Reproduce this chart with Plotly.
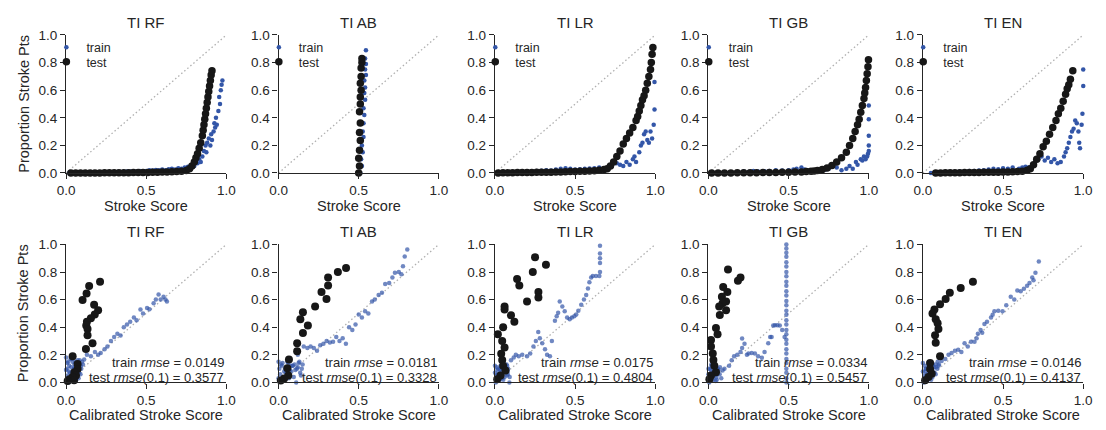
import plotly.graph_objects as go

# ---------------- data ----------------
MODELS = ["TI RF", "TI AB", "TI LR", "TI GB", "TI EN"]
TOP_XLABEL = "Stroke Score"
BOT_XLABEL = "Calibrated Stroke Score"
YLABEL = "Proportion Stroke Pts"
X_TICKS = [0.0, 0.5, 1.0]
Y_TICKS = [0.0, 0.2, 0.4, 0.6, 0.8, 1.0]
DIAG = [0.0, 1.0]

TRAIN_RMSE = ["0.0149", "0.0181", "0.0175", "0.0334", "0.0146"]
TEST_RMSE = ["0.3577", "0.3328", "0.4804", "0.5457", "0.4137"]

# ---- top row: raw scores ----
RF_TOP_TRAIN_X = [0.02,0.04,0.06,0.08,0.1,0.12,0.14,0.16,0.18,0.2,0.22,0.24,0.26,0.28,0.3,0.32,0.34,0.36,0.38,0.4,0.42,0.44,0.46,0.48,0.5,0.52,0.54,0.56,0.58,0.6,0.62,0.64,0.66,0.68,0.7,0.72,0.74,0.76,0.78,
                  0.8,0.82,0.83,0.84,0.85,0.86,0.87,0.875,0.88,0.89,0.9,0.905,0.91,0.92,0.925,0.93,0.935,0.94,0.95,0.955,0.96,0.965,0.97,0.975]
RF_TOP_TRAIN_Y = [0,0,0,0.001,0.001,0.002,0.002,0.003,0.003,0.004,0.004,0.005,0.005,0.006,0.006,0.007,0.008,0.009,0.01,0.01,0.012,0.011,0.014,0.013,0.015,0.02,0.018,0.022,0.02,0.025,0.02,0.028,0.03,0.025,0.035,0.03,0.04,0.045,0.04,
                  0.05,0.07,0.1,0.08,0.12,0.16,0.2,0.15,0.22,0.25,0.2,0.28,0.24,0.3,0.36,0.33,0.4,0.35,0.45,0.55,0.5,0.6,0.64,0.67]
RF_TOP_TEST_X = [0.03,0.06,0.09,0.12,0.15,0.18,0.21,0.24,0.27,0.3,0.33,0.36,0.39,0.42,0.45,0.48,0.51,0.54,0.57,0.6,0.63,0.66,0.69,0.72,0.75,0.77,0.785,
                 0.8,0.81,0.82,0.83,0.84,0.85,0.855,0.86,0.865,0.87,0.875,0.88,0.885,0.89,0.895,0.9,0.905,0.91]
RF_TOP_TEST_Y = [0,0,0,0,0,0,0,0.001,0.001,0.001,0.002,0.002,0.002,0.003,0.003,0.004,0.004,0.005,0.006,0.007,0.008,0.009,0.01,0.013,0.018,0.03,0.05,
                 0.08,0.11,0.14,0.18,0.22,0.27,0.31,0.35,0.39,0.43,0.47,0.51,0.55,0.59,0.63,0.67,0.71,0.74]

AB_TOP_TRAIN_X = [0.51,0.52,0.515,0.525,0.52,0.53,0.525,0.53,0.535,0.53,0.54,0.535,0.54,0.535,0.545,0.54,0.545,0.54,0.545]
AB_TOP_TRAIN_Y = [0.0,0.05,0.1,0.15,0.2,0.26,0.3,0.36,0.42,0.47,0.53,0.58,0.62,0.67,0.71,0.75,0.79,0.83,0.89]
AB_TOP_TEST_X = [0.5,0.505,0.5,0.505,0.51,0.505,0.51,0.505,0.51,0.51,0.515,0.51,0.515,0.515,0.52,0.52]
AB_TOP_TEST_Y = [0.0,0.05,0.107,0.165,0.235,0.293,0.363,0.444,0.5,0.55,0.6,0.65,0.7,0.76,0.8,0.83]

LR_TOP_TRAIN_X = [0.02,0.05,0.08,0.11,0.14,0.17,0.2,0.23,0.26,0.29,0.32,0.35,0.38,0.41,0.44,0.47,0.5,0.53,0.56,0.59,0.62,0.65,0.68,0.7,
                  0.73,0.76,0.78,0.8,0.82,0.84,0.86,0.87,0.88,0.9,0.91,0.92,0.93,0.94,0.95,0.96,0.97,0.98,0.99,0.995,0.995]
LR_TOP_TRAIN_Y = [0.0,0.003,0.005,0.007,0.008,0.01,0.012,0.013,0.015,0.016,0.02,0.018,0.025,0.03,0.035,0.03,0.025,0.028,0.03,0.033,0.035,0.04,0.035,0.03,
                  0.05,0.07,0.06,0.05,0.08,0.06,0.1,0.12,0.08,0.15,0.2,0.22,0.28,0.3,0.24,0.22,0.3,0.25,0.35,0.46,0.66]
LR_TOP_TEST_X = [0.02,0.05,0.08,0.11,0.14,0.17,0.2,0.23,0.26,0.29,0.32,0.35,0.38,0.41,0.44,0.47,0.5,0.53,0.56,0.59,0.62,0.65,0.68,0.7,
                 0.72,0.74,0.76,0.78,0.8,0.82,0.84,0.86,0.88,0.89,0.9,0.91,0.92,0.93,0.94,0.95,0.96,0.97,0.975,0.98,0.985]
LR_TOP_TEST_Y = [0,0.001,0.002,0.002,0.003,0.003,0.004,0.004,0.005,0.005,0.006,0.006,0.007,0.008,0.009,0.01,0.01,0.012,0.013,0.015,0.017,0.02,0.025,0.03,
                 0.05,0.08,0.12,0.16,0.21,0.25,0.29,0.33,0.38,0.41,0.45,0.49,0.53,0.56,0.6,0.65,0.7,0.75,0.8,0.86,0.91]

GB_TOP_TRAIN_X = [0.02,0.06,0.1,0.14,0.18,0.22,0.25,0.28,0.31,0.35,0.38,0.42,0.46,0.5,0.53,0.55,0.58,0.6,0.63,0.65,0.67,0.7,0.73,0.75,0.78,0.8,0.83,0.86,0.88,0.9,
                  0.92,0.93,0.95,0.96,0.97,0.98,0.99,0.995,1.0,1.0,1.0,1.0,1.0]
GB_TOP_TRAIN_Y = [0.0,0.002,0.003,0.004,0.005,0.01,0.008,0.015,0.01,0.012,0.015,0.02,0.018,0.02,0.025,0.03,0.04,0.025,0.02,0.018,0.015,0.02,0.025,0.03,0.05,0.04,0.02,0.03,0.05,0.03,
                  0.08,0.06,0.1,0.09,0.12,0.1,0.12,0.14,0.2,0.27,0.39,0.49,0.16]
GB_TOP_TEST_X = [0.02,0.06,0.1,0.14,0.18,0.22,0.26,0.3,0.34,0.38,0.42,0.46,0.5,0.54,0.58,0.61,0.64,0.66,0.68,0.71,0.74,0.77,0.8,0.83,0.86,0.88,0.9,0.915,0.93,0.94,0.95,0.96,0.97,0.975,0.98,0.985,0.99,0.995,0.998]
GB_TOP_TEST_Y = [0,0,0,0,0.001,0.001,0.002,0.002,0.003,0.003,0.004,0.005,0.006,0.007,0.008,0.01,0.012,0.015,0.018,0.025,0.037,0.055,0.08,0.11,0.15,0.2,0.25,0.3,0.35,0.39,0.44,0.49,0.54,0.58,0.62,0.67,0.72,0.77,0.82]

EN_TOP_TRAIN_X = [0.05,0.08,0.11,0.14,0.17,0.2,0.23,0.26,0.29,0.32,0.35,0.38,0.41,0.44,0.47,0.5,0.53,0.56,0.6,0.62,0.64,0.66,0.68,0.7,0.72,0.74,0.76,0.78,0.8,0.82,0.84,0.86,0.88,0.89,0.9,0.91,0.92,0.93,0.94,0.95,0.96,0.97,0.975,0.98,0.99,0.995,1.0,1.0]
EN_TOP_TRAIN_Y = [0.0,0.003,0.005,0.006,0.007,0.008,0.01,0.012,0.014,0.015,0.018,0.02,0.025,0.03,0.028,0.035,0.03,0.04,0.03,0.04,0.045,0.04,0.05,0.08,0.1,0.12,0.09,0.11,0.08,0.1,0.07,0.08,0.12,0.15,0.18,0.22,0.26,0.3,0.32,0.38,0.36,0.3,0.22,0.18,0.35,0.43,0.63,0.75]
EN_TOP_TEST_X = [0.08,0.11,0.14,0.17,0.2,0.23,0.26,0.29,0.32,0.35,0.38,0.41,0.44,0.47,0.5,0.53,0.56,0.59,0.62,0.65,0.67,0.69,0.71,0.73,0.75,0.77,0.79,0.81,0.83,0.845,0.86,0.875,0.89,0.9,0.91,0.92,0.935]
EN_TOP_TEST_Y = [0,0,0.001,0.001,0.002,0.002,0.003,0.003,0.004,0.004,0.005,0.005,0.006,0.006,0.007,0.008,0.009,0.01,0.012,0.02,0.03,0.06,0.1,0.14,0.19,0.23,0.28,0.33,0.38,0.43,0.47,0.52,0.57,0.61,0.64,0.68,0.74]

# ---- bottom row: calibrated scores ----
RF_BOT_TRAIN_X = [0.0,0.01,0.02,0.03,0.04,0.05,0.06,0.07,0.08,0.09,0.1,0.005,0.015,0.025,0.035,0.045,0.055,0.065,0.075,0.085,
                  0.0,0.012,0.022,0.032,0.042,0.052,0.062,0.072,0.082,0.092,0.008,0.018,0.028,0.038,0.048,0.058,0.068,0.078,0.095,0.105,
                  0.113,0.13,0.155,0.18,0.2,0.216,0.24,0.258,0.28,0.3,0.32,0.34,0.36,0.38,0.4,0.423,0.44,0.464,0.48,0.505,0.52,0.546,0.56,0.577,0.59,0.608,0.62,0.629]
RF_BOT_TRAIN_Y = [0.18,0.05,0.12,0.02,0.15,0.08,0.1,0.04,0.13,0.06,0.15,0.1,0.0,0.07,0.17,0.03,0.11,0.14,0.09,0.16,
                  0.09,0.15,0.03,0.11,0.06,0.13,0.02,0.16,0.07,0.12,0.14,0.08,0.17,0.05,0.1,0.15,0.12,0.03,0.1,0.13,
                  0.167,0.2,0.19,0.22,0.2,0.214,0.24,0.26,0.3,0.33,0.353,0.34,0.4,0.42,0.44,0.47,0.45,0.528,0.5,0.54,0.53,0.574,0.6,0.637,0.6,0.62,0.6,0.586]
RF_BOT_TEST_X = [0.212,0.144,0.128,0.103,0.175,0.2,0.179,0.155,0.13,0.126,0.134,0.134,0.165,0.124,0.041,0.072,0.072,0.052,0.062,0.041,0.021,0.05,0.01]
RF_BOT_TEST_Y = [0.73,0.698,0.644,0.598,0.563,0.523,0.493,0.465,0.44,0.412,0.388,0.342,0.284,0.242,0.19,0.133,0.098,0.074,0.051,0.04,0.023,0.016,0.01]

AB_BOT_TRAIN_X = [0.0,0.02,0.04,0.06,0.08,0.1,0.12,0.14,0.01,0.03,0.05,0.07,0.09,0.11,0.13,0.15,0.0,0.12,
                  0.005,0.025,0.045,0.065,0.085,0.105,0.125,0.145,0.015,0.035,0.055,0.075,0.095,0.115,0.135,
                  0.157,0.18,0.2,0.22,0.24,0.26,0.28,0.3,0.32,0.34,0.36,0.38,0.4,0.42,0.44,0.46,0.48,0.5,0.52,0.54,0.56,0.583,0.6,0.624,0.645,0.665,0.69,0.71,0.726,0.75,0.766,0.776,0.787,0.803]
AB_BOT_TRAIN_Y = [0.15,0.12,0.1,0.14,0.08,0.13,0.11,0.05,0.06,0.02,0.04,0.09,0.12,0.0,0.15,0.13,0.03,0.2,
                  0.1,0.14,0.07,0.03,0.12,0.09,0.14,0.1,0.13,0.08,0.15,0.12,0.04,0.1,0.07,
                  0.26,0.25,0.26,0.25,0.23,0.27,0.28,0.3,0.29,0.295,0.33,0.3,0.32,0.28,0.4,0.38,0.42,0.493,0.47,0.516,0.5,0.586,0.6,0.633,0.65,0.714,0.72,0.76,0.795,0.8,0.784,0.842,0.912,0.963]
AB_BOT_TEST_X = [0.421,0.37,0.309,0.309,0.268,0.299,0.228,0.152,0.136,0.183,0.152,0.116,0.116,0.065,0.055,0.061,0.035,0.014]
AB_BOT_TEST_Y = [0.83,0.8,0.76,0.702,0.656,0.605,0.551,0.509,0.458,0.412,0.358,0.284,0.226,0.167,0.102,0.051,0.028,0.014]

LR_BOT_TRAIN_X = [0.0,0.01,0.02,0.03,0.04,0.05,0.06,0.07,0.08,0.09,0.005,0.015,0.025,0.035,0.045,0.055,0.065,0.075,
                  0.0,0.012,0.022,0.032,0.042,0.052,0.062,0.072,0.082,0.092,0.018,0.038,0.058,0.078,
                  0.076,0.1,0.117,0.13,0.148,0.17,0.2,0.22,0.24,0.255,0.27,0.28,0.295,0.312,0.325,0.343,0.355,0.374,0.385,0.394,0.404,0.42,0.435,0.45,0.466,0.48,0.495,0.507,0.52,0.538,0.555,0.569,0.58,0.589,0.6,0.61,0.63,0.651,0.655,0.655,0.655,0.655,0.655]
LR_BOT_TRAIN_Y = [0.12,0.05,0.1,0.02,0.08,0.11,0.04,0.1,0.06,0.0,0.0,0.09,0.06,0.12,0.03,0.07,0.1,0.05,
                  0.07,0.11,0.03,0.09,0.12,0.02,0.08,0.13,0.1,0.04,0.06,0.1,0.12,0.08,
                  0.12,0.16,0.18,0.2,0.19,0.2,0.19,0.21,0.26,0.3,0.365,0.32,0.284,0.24,0.2,0.19,0.3,0.447,0.48,0.505,0.586,0.55,0.516,0.47,0.458,0.47,0.48,0.493,0.52,0.563,0.6,0.633,0.68,0.726,0.76,0.772,0.772,0.772,0.8,0.865,0.9,0.935,0.99]
LR_BOT_TEST_X = [0.25,0.318,0.236,0.138,0.152,0.271,0.2,0.271,0.06,0.06,0.1,0.121,0.051,0.018,0.045,0.06,0.039,0.045,0.051,0.066,0.035,0.014]
LR_BOT_TEST_Y = [0.907,0.853,0.8,0.749,0.702,0.656,0.586,0.616,0.551,0.528,0.486,0.44,0.4,0.349,0.3,0.253,0.207,0.163,0.121,0.086,0.051,0.023]

GB_BOT_TRAIN_X = [0.0,0.01,0.02,0.03,0.04,0.05,0.06,0.07,0.08,0.005,0.015,0.025,0.035,0.045,0.055,
                  0.0,0.012,0.022,0.032,0.042,0.052,0.062,0.072,0.018,0.038,0.058,
                  0.088,0.1,0.129,0.145,0.16,0.18,0.2,0.21,0.21,0.225,0.24,0.25,0.27,0.29,0.31,0.333,0.35,0.373,0.385,0.394,0.404,0.415,0.43,0.445,0.46,0.475,
                  0.486,0.486,0.486,0.486,0.486,0.486,0.486,0.486,0.486,0.486,0.486,0.486,0.486,0.486,0.486,0.486,0.486,0.486,0.486,0.486,0.486,0.486,0.486,0.486,0.486,0.486,0.486,0.486,0.486,0.486]
GB_BOT_TRAIN_Y = [0.1,0.05,0.12,0.02,0.08,0.04,0.1,0.06,0.03,0.0,0.09,0.07,0.11,0.01,0.06,
                  0.06,0.1,0.03,0.08,0.12,0.02,0.09,0.11,0.13,0.05,0.08,
                  0.086,0.1,0.121,0.16,0.19,0.2,0.22,0.249,0.319,0.28,0.2,0.21,0.214,0.21,0.19,0.179,0.22,0.284,0.33,0.33,0.412,0.415,0.415,0.412,0.38,0.33,
                  0.0,0.03,0.07,0.1,0.14,0.17,0.21,0.24,0.28,0.31,0.35,0.38,0.42,0.45,0.49,0.52,0.56,0.59,0.63,0.66,0.7,0.73,0.77,0.8,0.84,0.87,0.91,0.94,0.97,1.0]
GB_BOT_TEST_X = [0.122,0.2,0.184,0.092,0.118,0.084,0.11,0.088,0.067,0.11,0.071,0.047,0.057,0.016,0.016,0.027,0.031,0.037,0.047,0.016,0.006]
GB_BOT_TEST_Y = [0.819,0.76,0.737,0.691,0.656,0.621,0.586,0.574,0.551,0.523,0.488,0.395,0.349,0.307,0.26,0.209,0.163,0.121,0.074,0.051,0.023]

EN_BOT_TRAIN_X = [0.0,0.01,0.02,0.03,0.04,0.05,0.06,0.07,0.08,0.09,0.1,0.005,0.015,0.025,0.035,0.045,0.055,0.065,
                  0.0,0.012,0.022,0.032,0.042,0.052,0.062,0.072,0.082,0.092,0.018,0.038,0.058,0.078,0.098,
                  0.117,0.14,0.16,0.179,0.2,0.22,0.24,0.26,0.28,0.3,0.322,0.335,0.343,0.36,0.37,0.384,0.4,0.425,0.435,0.446,0.47,0.497,0.52,0.548,0.57,0.589,0.61,0.63,0.65,0.665,0.682,0.69,0.702,0.723]
EN_BOT_TRAIN_Y = [0.14,0.05,0.1,0.02,0.12,0.08,0.04,0.11,0.06,0.1,0.13,0.0,0.08,0.06,0.03,0.1,0.12,0.07,
                  0.08,0.12,0.04,0.14,0.09,0.02,0.13,0.07,0.11,0.15,0.1,0.06,0.09,0.13,0.12,
                  0.156,0.17,0.2,0.214,0.23,0.237,0.22,0.284,0.26,0.295,0.295,0.32,0.353,0.38,0.36,0.423,0.44,0.47,0.49,0.516,0.52,0.516,0.56,0.62,0.6,0.667,0.66,0.679,0.7,0.72,0.76,0.74,0.795,0.877]
EN_BOT_TEST_X = [0.312,0.236,0.168,0.142,0.107,0.072,0.06,0.08,0.092,0.097,0.076,0.08,0.107,0.045,0.045,0.055,0.035,0.014]
EN_BOT_TEST_Y = [0.73,0.684,0.649,0.605,0.567,0.528,0.5,0.458,0.428,0.388,0.342,0.288,0.19,0.14,0.098,0.063,0.04,0.016]

TOP_TRAIN = [(RF_TOP_TRAIN_X, RF_TOP_TRAIN_Y), (AB_TOP_TRAIN_X, AB_TOP_TRAIN_Y), (LR_TOP_TRAIN_X, LR_TOP_TRAIN_Y),
             (GB_TOP_TRAIN_X, GB_TOP_TRAIN_Y), (EN_TOP_TRAIN_X, EN_TOP_TRAIN_Y)]
TOP_TEST = [(RF_TOP_TEST_X, RF_TOP_TEST_Y), (AB_TOP_TEST_X, AB_TOP_TEST_Y), (LR_TOP_TEST_X, LR_TOP_TEST_Y),
            (GB_TOP_TEST_X, GB_TOP_TEST_Y), (EN_TOP_TEST_X, EN_TOP_TEST_Y)]
BOT_TRAIN = [(RF_BOT_TRAIN_X, RF_BOT_TRAIN_Y), (AB_BOT_TRAIN_X, AB_BOT_TRAIN_Y), (LR_BOT_TRAIN_X, LR_BOT_TRAIN_Y),
             (GB_BOT_TRAIN_X, GB_BOT_TRAIN_Y), (EN_BOT_TRAIN_X, EN_BOT_TRAIN_Y)]
BOT_TEST = [(RF_BOT_TEST_X, RF_BOT_TEST_Y), (AB_BOT_TEST_X, AB_BOT_TEST_Y), (LR_BOT_TEST_X, LR_BOT_TEST_Y),
            (GB_BOT_TEST_X, GB_BOT_TEST_Y), (EN_BOT_TEST_X, EN_BOT_TEST_Y)]

# ---------------- style / layout ----------------
W, H = 1106, 430
BLUE = "#3356a8"
BLACK = "#171717"
AXIS_C = "#262626"
FONT = "Liberation Sans, Arial, sans-serif"
PX0 = [58, 274, 494, 711, 929]
PW = 163
ROWS_PX = [(29, 172), (246, 389)]

fig = go.Figure()
layout = dict(
    width=W, height=H, margin=dict(l=0, r=0, t=0, b=0),
    paper_bgcolor="white", plot_bgcolor="white",
    font=dict(family=FONT, color=AXIS_C, size=13),
    shapes=[], annotations=[],
)

for r in range(2):
    top_px, bot_px = ROWS_PX[r]
    for c in range(5):
        idx = r * 5 + c + 1
        xn = "x" if idx == 1 else f"x{idx}"
        yn = "y" if idx == 1 else f"y{idx}"
        xkey = "xaxis" if idx == 1 else f"xaxis{idx}"
        ykey = "yaxis" if idx == 1 else f"yaxis{idx}"
        xd = [PX0[c] / W, (PX0[c] + PW) / W]
        yd = [1 - bot_px / H, 1 - top_px / H]
        common = dict(showgrid=False, zeroline=False, showline=True, linecolor=AXIS_C, linewidth=1.25,
                      ticks="outside", ticklen=5, tickwidth=1.25, tickcolor=AXIS_C,
                      tickfont=dict(size=13.5, color=AXIS_C), range=[0, 1], fixedrange=True)
        layout[xkey] = dict(common, domain=xd, anchor=yn,
                            tickvals=X_TICKS, ticktext=[f"{v:.1f}" for v in X_TICKS])
        layout[ykey] = dict(common, domain=yd, anchor=xn,
                            tickvals=Y_TICKS, ticktext=[f"{v:.1f}" for v in Y_TICKS])

        # diagonal reference
        layout["shapes"].append(dict(type="line", xref=xn, yref=yn, x0=DIAG[0], y0=DIAG[0], x1=DIAG[1], y1=DIAG[1],
                                     line=dict(color="#b0b0b0", width=1.3, dash="1.5px,2.5px"), layer="below"))

        if r == 0:
            leg_tr = "legend" if c == 0 else f"legend{2 * c + 1}"
            leg_te = f"legend{2 * c + 2}"
            tx, ty = TOP_TRAIN[c]
            sx, sy = TOP_TEST[c]
            fig.add_trace(go.Scatter(x=tx, y=ty, mode="markers", name="train", xaxis=xn, yaxis=yn,
                                     marker=dict(color=BLUE, size=4.5, line=dict(width=0)),
                                     cliponaxis=False, legend=leg_tr, showlegend=True))
            fig.add_trace(go.Scatter(x=sx, y=sy, mode="markers", name="test", xaxis=xn, yaxis=yn,
                                     marker=dict(color=BLACK, size=7.5, line=dict(width=0)),
                                     cliponaxis=False, legend=leg_te, showlegend=True))
            for leg, ypx in ((leg_tr, 42), (leg_te, 57)):
                layout[leg] = dict(x=(PX0[c] - 20) / W, y=1 - ypx / H, xanchor="left", yanchor="middle",
                                   bgcolor="rgba(0,0,0,0)", font=dict(size=12.5, color=AXIS_C),
                                   itemwidth=30, borderwidth=0)
        else:
            tx, ty = BOT_TRAIN[c]
            sx, sy = BOT_TEST[c]
            fig.add_trace(go.Scatter(x=tx, y=ty, mode="markers", name="train", xaxis=xn, yaxis=yn,
                                     marker=dict(color=BLUE, size=4.5, opacity=0.7, line=dict(width=0)),
                                     cliponaxis=False, showlegend=False))
            fig.add_trace(go.Scatter(x=sx, y=sy, mode="markers", name="test", xaxis=xn, yaxis=yn,
                                     marker=dict(color=BLACK, size=8, line=dict(width=0)),
                                     cliponaxis=False, showlegend=False))
            layout["annotations"].append(dict(
                xref=xn, yref=yn, x=1.0, y=0.145, xanchor="right", yanchor="middle", showarrow=False,
                text=f"train <i>rmse</i> = {TRAIN_RMSE[c]}", font=dict(size=13, color=AXIS_C)))
            layout["annotations"].append(dict(
                xref=xn, yref=yn, x=1.0, y=0.035, xanchor="right", yanchor="middle", showarrow=False,
                text=f"test <i>rmse</i>(0.1) = {TEST_RMSE[c]}", font=dict(size=13, color=AXIS_C)))

        # panel title
        layout["annotations"].append(dict(
            xref="paper", yref="paper", x=(PX0[c] + PW / 2) / W, y=1 - (top_px - 13) / H,
            xanchor="center", yanchor="middle", showarrow=False, text=MODELS[c],
            font=dict(size=15, color=AXIS_C)))
        # x label
        layout["annotations"].append(dict(
            xref="paper", yref="paper", x=(PX0[c] + PW / 2) / W, y=1 - (bot_px + 34) / H,
            xanchor="center", yanchor="middle", showarrow=False,
            text=TOP_XLABEL if r == 0 else BOT_XLABEL, font=dict(size=14.5, color=AXIS_C)))
    # y label
    layout["annotations"].append(dict(
        xref="paper", yref="paper", x=15 / W, y=1 - ((top_px + bot_px) / 2) / H,
        xanchor="center", yanchor="middle", showarrow=False, textangle=-90,
        text=YLABEL, font=dict(size=14.5, color=AXIS_C)))

fig.update_layout(**layout)
fig.write_html("out.html")
